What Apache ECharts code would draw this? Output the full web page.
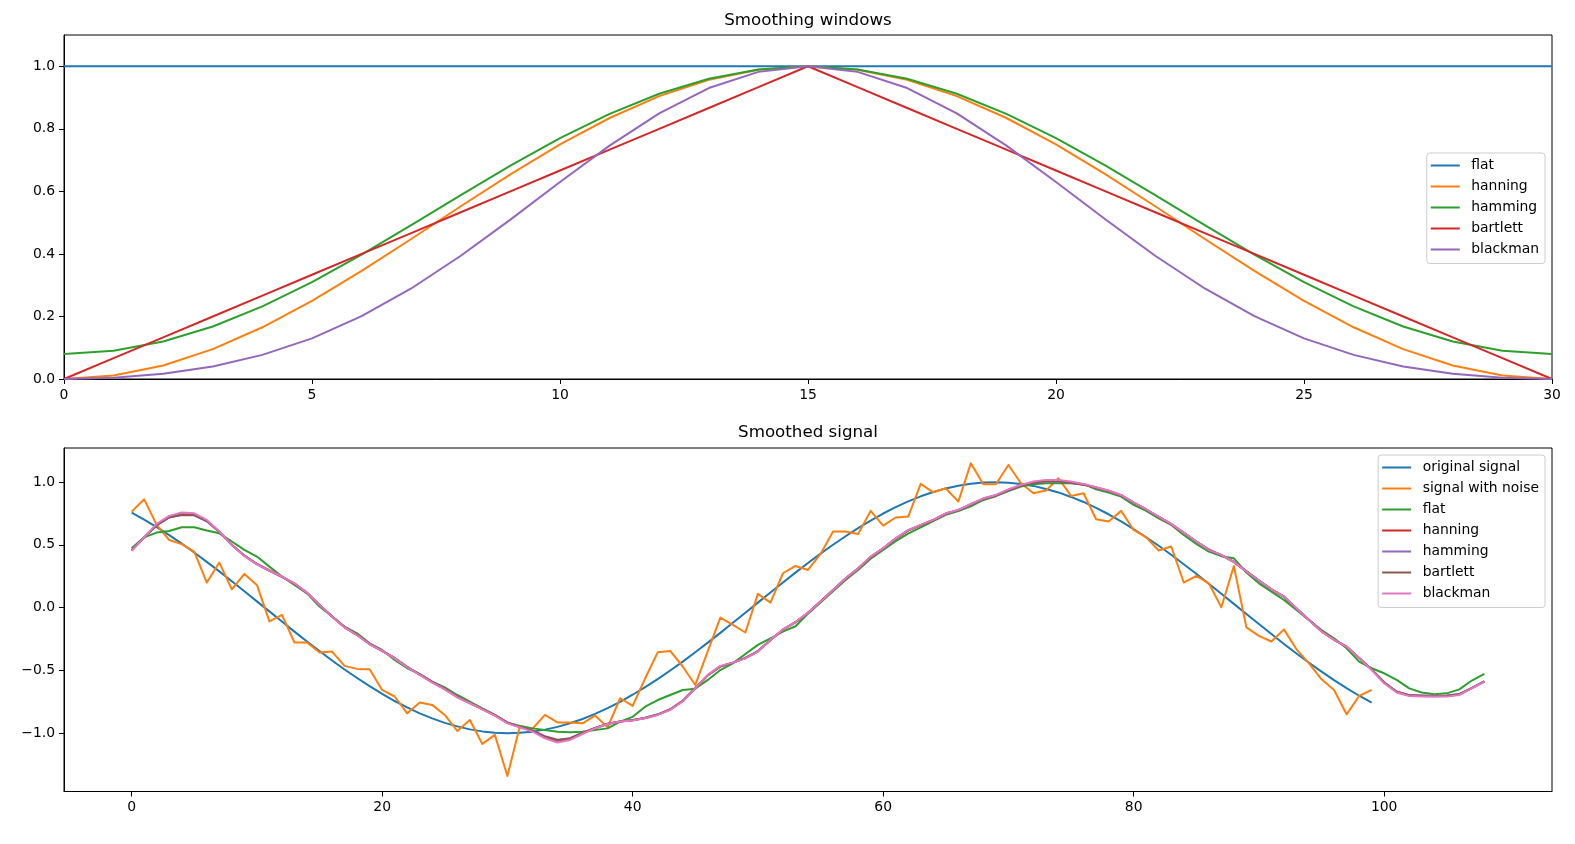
<!DOCTYPE html>
<html><head><meta charset="utf-8">
<script src="https://cdn.jsdelivr.net/npm/echarts@6/dist/echarts.min.js"></script>
<style>html,body{margin:0;padding:0;background:#fff}#c{width:1575px;height:844px}</style>
</head><body><div id="c"></div>
<script>
// ---------- data: top panel (window functions, 31 points) ----------
const windowX = [0,1,2,3,4,5,6,7,8,9,10,11,12,13,14,15,16,17,18,19,20,21,22,23,24,25,26,27,28,29,30];
const winFlat = [1,1,1,1,1,1,1,1,1,1,1,1,1,1,1,1,1,1,1,1,1,1,1,1,1,1,1,1,1,1,1];
const winHanning = [0,0.0109,0.0432,0.0955,0.1654,0.25,0.3455,0.4477,0.5523,0.6545,0.75,0.8346,0.9045,0.9568,0.9891,1,
  0.9891,0.9568,0.9045,0.8346,0.75,0.6545,0.5523,0.4477,0.3455,0.25,0.1654,0.0955,0.0432,0.0109,0];
const winHamming = [0.08,0.0901,0.1198,0.1679,0.2322,0.31,0.3979,0.4919,0.5881,0.6821,0.77,0.8478,0.9121,0.9602,0.9899,1,
  0.9899,0.9602,0.9121,0.8478,0.77,0.6821,0.5881,0.4919,0.3979,0.31,0.2322,0.1679,0.1198,0.0901,0.08];
const winBartlett = [0,0.0667,0.1333,0.2,0.2667,0.3333,0.4,0.4667,0.5333,0.6,0.6667,0.7333,0.8,0.8667,0.9333,1,
  0.9333,0.8667,0.8,0.7333,0.6667,0.6,0.5333,0.4667,0.4,0.3333,0.2667,0.2,0.1333,0.0667,0];
const winBlackman = [0,0.004,0.0168,0.0402,0.0771,0.13,0.2008,0.2895,0.394,0.5098,0.63,0.7462,0.8492,0.9303,0.9821,1,
  0.9821,0.9303,0.8492,0.7462,0.63,0.5098,0.394,0.2895,0.2008,0.13,0.0771,0.0402,0.0168,0.004,0];
const windowNames = ['flat','hanning','hamming','bartlett','blackman'];

// ---------- data: bottom panel ----------
const original = [0.757,0.702,0.642,0.578,0.51,0.439,0.365,0.289,0.21,0.131,
  0.05,-0.03,-0.111,-0.191,-0.27,-0.346,-0.421,-0.493,-0.561,-0.626,
  -0.687,-0.744,-0.795,-0.842,-0.882,-0.918,-0.946,-0.97,-0.986,-0.996,
  -1.0,-0.997,-0.988,-0.972,-0.95,-0.921,-0.887,-0.847,-0.801,-0.75,
  -0.694,-0.634,-0.569,-0.501,-0.43,-0.356,-0.279,-0.201,-0.121,-0.04,
  0.04,0.121,0.201,0.279,0.356,0.43,0.501,0.569,0.634,0.694,
  0.75,0.801,0.847,0.887,0.921,0.95,0.972,0.988,0.997,1.0,
  0.996,0.986,0.97,0.946,0.918,0.882,0.842,0.795,0.744,0.687,
  0.626,0.561,0.493,0.421,0.346,0.27,0.191,0.111,0.03,-0.05,
  -0.131,-0.21,-0.289,-0.365,-0.439,-0.51,-0.578,-0.642,-0.702,-0.757];
const noisy = [0.765,0.863,0.659,0.539,0.506,0.447,0.2,0.359,0.146,0.269,
  0.181,-0.109,-0.058,-0.278,-0.278,-0.358,-0.35,-0.464,-0.488,-0.491,
  -0.656,-0.708,-0.842,-0.756,-0.775,-0.855,-0.983,-0.895,-1.086,-1.014,
  -1.341,-0.943,-0.965,-0.855,-0.915,-0.915,-0.922,-0.86,-0.954,-0.722,
  -0.783,-0.563,-0.356,-0.345,-0.469,-0.616,-0.347,-0.079,-0.138,-0.198,
  0.11,0.04,0.274,0.332,0.3,0.428,0.606,0.606,0.587,0.771,
  0.654,0.718,0.726,0.986,0.919,0.951,0.845,1.15,0.983,0.983,
  1.137,0.991,0.911,0.933,1.031,0.89,0.911,0.704,0.686,0.771,
  0.619,0.56,0.455,0.487,0.2,0.253,0.194,0.003,0.332,-0.157,
  -0.225,-0.27,-0.173,-0.332,-0.444,-0.571,-0.656,-0.85,-0.704,-0.656];
const smFlat = [0.473,0.56,0.598,0.611,0.64,0.64,0.614,0.592,0.527,0.46,
  0.407,0.327,0.248,0.181,0.114,0.009,-0.071,-0.151,-0.205,-0.284,
  -0.337,-0.417,-0.483,-0.528,-0.589,-0.635,-0.696,-0.748,-0.802,-0.855,
  -0.916,-0.943,-0.962,-0.975,-0.988,-0.992,-0.988,-0.975,-0.962,-0.908,
  -0.87,-0.789,-0.736,-0.696,-0.656,-0.646,-0.576,-0.497,-0.444,-0.369,
  -0.297,-0.244,-0.191,-0.148,-0.048,0.041,0.131,0.221,0.3,0.39,
  0.46,0.53,0.589,0.639,0.689,0.739,0.769,0.808,0.858,0.888,
  0.928,0.965,0.983,0.991,0.991,0.991,0.986,0.943,0.917,0.885,
  0.819,0.771,0.712,0.659,0.579,0.508,0.447,0.41,0.393,0.28,
  0.194,0.128,0.061,-0.018,-0.098,-0.178,-0.244,-0.324,-0.43,-0.483,
  -0.523,-0.576,-0.643,-0.676,-0.691,-0.683,-0.651,-0.581,-0.528];
const smHanning = [0.455,0.56,0.66,0.722,0.745,0.742,0.692,0.604,0.5,0.414,
  0.347,0.296,0.247,0.192,0.118,0.022,-0.07,-0.157,-0.217,-0.29,
  -0.344,-0.403,-0.473,-0.534,-0.594,-0.649,-0.712,-0.76,-0.808,-0.858,
  -0.918,-0.952,-0.982,-1.03,-1.06,-1.045,-1.0,-0.96,-0.927,-0.908,
  -0.898,-0.88,-0.853,-0.812,-0.744,-0.642,-0.538,-0.468,-0.438,-0.402,
  -0.348,-0.258,-0.176,-0.116,-0.041,0.048,0.14,0.232,0.312,0.404,
  0.472,0.55,0.616,0.658,0.698,0.75,0.777,0.824,0.868,0.895,
  0.938,0.975,0.998,1.01,1.01,0.998,0.982,0.957,0.93,0.896,
  0.837,0.782,0.724,0.665,0.597,0.527,0.462,0.418,0.365,0.289,
  0.216,0.146,0.087,-0.006,-0.098,-0.189,-0.256,-0.311,-0.402,-0.494,
  -0.598,-0.672,-0.7,-0.705,-0.706,-0.705,-0.692,-0.641,-0.588];
const smHamming = [0.457,0.56,0.655,0.718,0.738,0.736,0.688,0.603,0.501,0.415,
  0.348,0.296,0.246,0.191,0.117,0.022,-0.07,-0.156,-0.216,-0.289,
  -0.343,-0.402,-0.472,-0.532,-0.592,-0.647,-0.71,-0.758,-0.806,-0.856,
  -0.915,-0.95,-0.978,-1.025,-1.052,-1.04,-0.997,-0.958,-0.926,-0.907,
  -0.896,-0.878,-0.85,-0.81,-0.742,-0.641,-0.54,-0.47,-0.438,-0.401,
  -0.346,-0.259,-0.175,-0.117,-0.042,0.047,0.139,0.231,0.311,0.402,
  0.471,0.549,0.614,0.657,0.697,0.748,0.776,0.822,0.866,0.893,
  0.935,0.972,0.994,1.005,1.005,0.994,0.979,0.955,0.928,0.894,
  0.836,0.781,0.723,0.664,0.596,0.526,0.463,0.417,0.366,0.29,
  0.215,0.146,0.086,-0.007,-0.098,-0.188,-0.255,-0.312,-0.401,-0.492,
  -0.595,-0.668,-0.697,-0.7,-0.702,-0.7,-0.689,-0.64,-0.587];
const smBartlett = [0.456,0.56,0.657,0.72,0.74,0.738,0.69,0.604,0.5,0.414,
  0.347,0.296,0.246,0.192,0.118,0.022,-0.07,-0.157,-0.217,-0.29,
  -0.344,-0.403,-0.473,-0.533,-0.593,-0.648,-0.711,-0.759,-0.807,-0.857,
  -0.916,-0.951,-0.98,-1.028,-1.056,-1.042,-0.998,-0.959,-0.926,-0.907,
  -0.897,-0.879,-0.852,-0.811,-0.743,-0.642,-0.539,-0.469,-0.438,-0.402,
  -0.347,-0.258,-0.176,-0.116,-0.041,0.048,0.14,0.232,0.312,0.403,
  0.472,0.55,0.615,0.658,0.698,0.749,0.777,0.823,0.867,0.894,
  0.937,0.973,0.996,1.007,1.007,0.996,0.98,0.956,0.929,0.895,
  0.837,0.782,0.724,0.665,0.597,0.527,0.462,0.418,0.365,0.289,
  0.216,0.146,0.087,-0.006,-0.098,-0.189,-0.256,-0.311,-0.402,-0.493,
  -0.597,-0.67,-0.698,-0.702,-0.704,-0.702,-0.69,-0.641,-0.588];
const smBlackman = [0.452,0.56,0.667,0.731,0.758,0.752,0.699,0.606,0.5,0.412,
  0.345,0.296,0.248,0.194,0.12,0.022,-0.071,-0.158,-0.218,-0.292,
  -0.345,-0.404,-0.475,-0.536,-0.597,-0.651,-0.715,-0.762,-0.81,-0.86,
  -0.922,-0.954,-0.988,-1.041,-1.075,-1.054,-1.007,-0.962,-0.927,-0.908,
  -0.9,-0.882,-0.855,-0.815,-0.748,-0.643,-0.536,-0.464,-0.438,-0.404,
  -0.35,-0.257,-0.175,-0.115,-0.04,0.048,0.141,0.234,0.313,0.407,
  0.473,0.552,0.619,0.659,0.699,0.752,0.779,0.826,0.871,0.898,
  0.943,0.978,1.005,1.018,1.018,1.005,0.986,0.959,0.933,0.898,
  0.838,0.784,0.726,0.667,0.598,0.527,0.46,0.42,0.365,0.288,
  0.216,0.146,0.088,-0.005,-0.098,-0.19,-0.257,-0.31,-0.404,-0.496,
  -0.603,-0.676,-0.704,-0.709,-0.709,-0.709,-0.696,-0.643,-0.589];
const signalNames = ['original signal','signal with noise','flat','hanning','hamming','bartlett','blackman'];

// ---------- tick labels ----------
const topXTicks = [0,5,10,15,20,25,30];
const topYTicks = [0,0.2,0.4,0.6,0.8,1.0];
const botXTicks = [0,20,40,60,80,100];
const botYTicks = [-1.0,-0.5,0,0.5,1.0];

// ---------- build ----------
const tab10 = ['#1f77b4','#ff7f0e','#2ca02c','#d62728','#9467bd','#8c564b','#e377c2'];
const FONT = 'DejaVu Sans';
const fmt1 = v => (v < 0 ? '\u2212' : '') + Math.abs(v).toFixed(1);
const fmt0 = v => (v < 0 ? '\u2212' : '') + Math.abs(Math.round(v));

function axis(gridIndex, min, max, ticks, formatter) {
  return {
    type: 'value', gridIndex, min, max,
    axisLine: { show: true, onZero: false, lineStyle: { color: '#000', width: 1 } },
    axisTick: { show: true, inside: false, length: 5, customValues: ticks, lineStyle: { color: '#000', width: 1 } },
    axisLabel: { show: true, customValues: ticks, formatter, color: '#000', fontFamily: FONT, fontSize: 13.9, margin: 9 },
    splitLine: { show: false }
  };
}
function line(name, xs, ys, color, xi) {
  return {
    type: 'line', name, xAxisIndex: xi, yAxisIndex: xi,
    data: ys.map((v, i) => [xs[i], v]),
    showSymbol: false, symbol: 'none',
    lineStyle: { color, width: 2, join: 'round' },
    itemStyle: { color },
    animation: false
  };
}
const sigX = original.map((_, i) => i);
const smX = smFlat.map((_, i) => i);

const topWins = [winFlat, winHanning, winHamming, winBartlett, winBlackman];
const series = [];
topWins.forEach((w, i) => series.push(line(windowNames[i], windowX, w, tab10[i], 0)));
series.push(line('original signal', sigX, original, tab10[0], 1));
series.push(line('signal with noise', sigX, noisy, tab10[1], 1));
[smFlat, smHanning, smHamming, smBartlett, smBlackman].forEach((s, i) =>
  series.push(line(windowNames[i], smX, s, tab10[i + 2], 1)));

const legendBase = {
  orient: 'vertical', right: 30, icon: 'rect', itemWidth: 29, itemHeight: 2, itemGap: 7,
  padding: [5.5, 6, 7, 4], borderColor: '#cccccc', borderWidth: 1, borderRadius: 3,
  backgroundColor: 'rgba(255,255,255,0.8)', selectedMode: false,
  textStyle: { fontFamily: FONT, fontSize: 13.9, color: '#000', lineHeight: 14, padding: [0, 0, 0, 6.5] }
};

const option = {
  animation: false,
  backgroundColor: '#fff',
  grid: [
    { left: 64, top: 35, width: 1488, height: 344, show: true, borderColor: '#000', borderWidth: 1, backgroundColor: 'transparent' },
    { left: 64, top: 448, width: 1488, height: 343.5, show: true, borderColor: '#000', borderWidth: 1, backgroundColor: 'transparent' }
  ],
  xAxis: [axis(0, 0, 30, topXTicks, fmt0), axis(1, -5.4, 113.4, botXTicks, fmt0)],
  yAxis: [axis(0, 0, 1.1, topYTicks, fmt1), axis(1, -1.465, 1.272, botYTicks, fmt1)],
  legend: [
    Object.assign({}, legendBase, { top: 153,
      data: windowNames.map((n, i) => ({ name: n, itemStyle: { color: tab10[i] } })) }),
    Object.assign({}, legendBase, { top: 455,
      data: signalNames.map((n, i) => ({ name: n, itemStyle: { color: tab10[i] } })) })
  ],
  graphic: [
    { type: 'text', x: 808, y: 21, style: { text: 'Smoothing windows', fill: '#000', fontFamily: FONT, fontSize: 16.7,
      align: 'center', verticalAlign: 'middle', textAlign: 'center', textVerticalAlign: 'middle' } },
    { type: 'text', x: 808, y: 433, style: { text: 'Smoothed signal', fill: '#000', fontFamily: FONT, fontSize: 16.7,
      align: 'center', verticalAlign: 'middle', textAlign: 'center', textVerticalAlign: 'middle' } }
  ],
  series
};
const chart = echarts.init(document.getElementById('c'), null, { renderer: 'canvas' });
chart.setOption(option);
</script>
</body></html>
